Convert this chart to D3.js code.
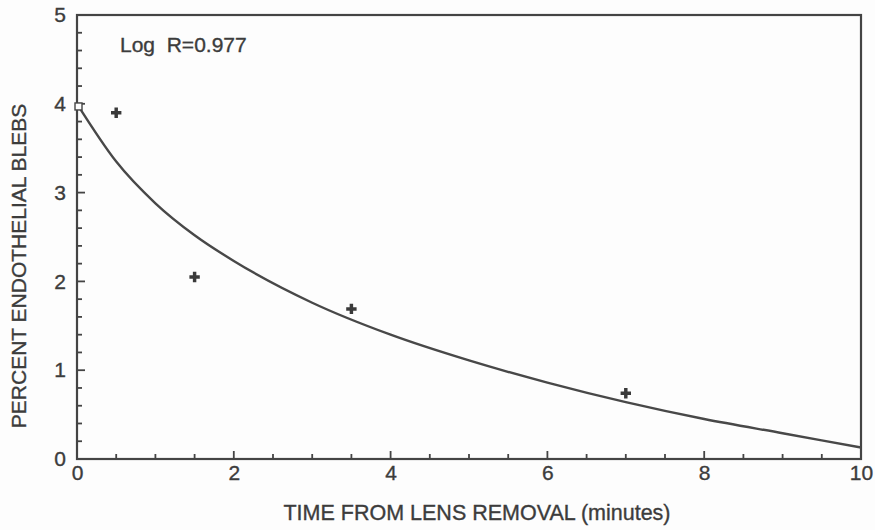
<!DOCTYPE html>
<html>
<head>
<meta charset="utf-8">
<script src="https://cdn.jsdelivr.net/npm/d3@7"></script>
<style>
  html, body { margin: 0; padding: 0; background: #fdfdfd; }
  svg { display: block; }
  text { font-family: "Liberation Sans", Arial, Helvetica, sans-serif; fill: #3c3c3c; stroke: #3c3c3c; stroke-width: 0.35px; }
</style>
</head>
<body>
<svg id="chart" width="875" height="530"></svg>
<script>
// Measured bleb percentages after lens removal
const times = [0.5, 1.5, 3.5, 7];
const blebs = [3.9, 2.05, 1.69, 0.74];

// Initial reading at t = 0 (open marker)
const startTimes = [0];
const startBlebs = [3.97];

// Logarithmic fit curve, sampled along the time axis
const fitTimes  = [0, 0.5, 1, 1.5, 2, 3, 4, 5, 6, 7, 8, 9, 10];
const fitValues = [4.0, 3.35, 2.88, 2.52, 2.23, 1.76, 1.40, 1.11, 0.86, 0.64, 0.45, 0.29, 0.13];

// Axis ticks
const xMajorTicks = [0, 2, 4, 6, 8, 10];
const xMinorTicks = [0.5, 1, 1.5, 2.5, 3, 3.5, 4.5, 5, 5.5, 6.5, 7, 7.5, 8.5, 9, 9.5];
const yMajorTicks = [0, 1, 2, 3, 4, 5];
const yMinorTicks = [0.2, 0.4, 0.6, 0.8, 1.2, 1.4, 1.6, 1.8, 2.2, 2.4, 2.6, 2.8,
                     3.2, 3.4, 3.6, 3.8, 4.2, 4.4, 4.6, 4.8];

const fitLabel = "Log  R=0.977";
const xTitle = "TIME FROM LENS REMOVAL (minutes)";
const yTitle = "PERCENT ENDOTHELIAL BLEBS";

const svg = d3.select("#chart");
const ink = "#444";
const plotLeft = 77, plotRight = 861, plotTop = 15, plotBottom = 459;

const x = d3.scaleLinear().domain([0, 10]).range([plotLeft, plotRight]);
const y = d3.scaleLinear().domain([0, 5]).range([plotBottom, plotTop]);

// Tick labels from d3 axes (tick lines drawn separately below)
const xAxis = d3.axisBottom(x).tickValues(xMajorTicks).tickSize(0).tickPadding(14)
  .tickFormat(d3.format("d"));
const yAxis = d3.axisLeft(y).tickValues(yMajorTicks).tickSize(0).tickPadding(11)
  .tickFormat(d3.format("d"));

function styleAxis(g) {
  g.select(".domain").remove();
  g.selectAll(".tick line").remove();
  g.selectAll(".tick text")
    .attr("fill", "#3c3c3c")
    .style("font-size", "21px")
    .style("font-family", "'Liberation Sans', Arial, sans-serif");
}

svg.append("g").attr("transform", `translate(0,${plotBottom})`).call(xAxis).call(styleAxis)
  .selectAll(".tick text").attr("dy", "0.35em");
svg.append("g").attr("transform", `translate(${plotLeft},0)`).call(yAxis).call(styleAxis);

// Inward tick marks
const tickG = svg.append("g").attr("stroke", ink).attr("stroke-width", 1.8);
tickG.selectAll("line.xmaj").data(xMajorTicks).join("line").attr("class", "xmaj")
  .attr("x1", d => x(d)).attr("x2", d => x(d))
  .attr("y1", plotBottom).attr("y2", plotBottom - 8);
tickG.selectAll("line.xmin").data(xMinorTicks).join("line").attr("class", "xmin")
  .attr("x1", d => x(d)).attr("x2", d => x(d))
  .attr("y1", plotBottom).attr("y2", plotBottom - 5);
tickG.selectAll("line.ymaj").data(yMajorTicks).join("line").attr("class", "ymaj")
  .attr("y1", d => y(d)).attr("y2", d => y(d))
  .attr("x1", plotLeft).attr("x2", plotLeft + 8);
tickG.selectAll("line.ymin").data(yMinorTicks).join("line").attr("class", "ymin")
  .attr("y1", d => y(d)).attr("y2", d => y(d))
  .attr("x1", plotLeft).attr("x2", plotLeft + 5);

// Plot frame
svg.append("rect")
  .attr("x", plotLeft).attr("y", plotTop)
  .attr("width", plotRight - plotLeft).attr("height", plotBottom - plotTop)
  .attr("fill", "none").attr("stroke", ink).attr("stroke-width", 2.2);

// Fit curve
const fitData = fitTimes.map((t, i) => [t, fitValues[i]]);
svg.append("path")
  .datum(fitData)
  .attr("fill", "none")
  .attr("stroke", "#484848")
  .attr("stroke-width", 2.4)
  .attr("d", d3.line().x(d => x(d[0])).y(d => y(d[1])).curve(d3.curveMonotoneX));

// Data points
const cross = d3.symbol().type(d3.symbolCross).size(60);
svg.append("g").selectAll("path")
  .data(times.map((t, i) => [t, blebs[i]]))
  .join("path")
  .attr("transform", d => `translate(${x(d[0])},${y(d[1])})`)
  .attr("d", cross)
  .attr("fill", "#3a3a3a");

svg.append("g").selectAll("rect")
  .data(startTimes.map((t, i) => [t, startBlebs[i]]))
  .join("rect")
  .attr("x", d => x(d[0]) - 2)
  .attr("y", d => y(d[1]) - 3.5)
  .attr("width", 7).attr("height", 7)
  .attr("fill", "#fdfdfd")
  .attr("stroke", ink).attr("stroke-width", 1.4);

// Fit annotation
svg.append("text")
  .attr("x", 120).attr("y", 52)
  .style("font-size", "21px")
  .style("white-space", "pre")
  .attr("xml:space", "preserve")
  .text(fitLabel);

// Axis titles
svg.append("text")
  .attr("x", (plotLeft + plotRight) / 2 + 8).attr("y", 520)
  .attr("text-anchor", "middle")
  .style("font-size", "21.5px")
  .text(xTitle);

svg.append("text")
  .attr("transform", `translate(26,266) rotate(-90)`)
  .attr("text-anchor", "middle")
  .style("font-size", "21px")
  .text(yTitle);
</script>
</body>
</html>
